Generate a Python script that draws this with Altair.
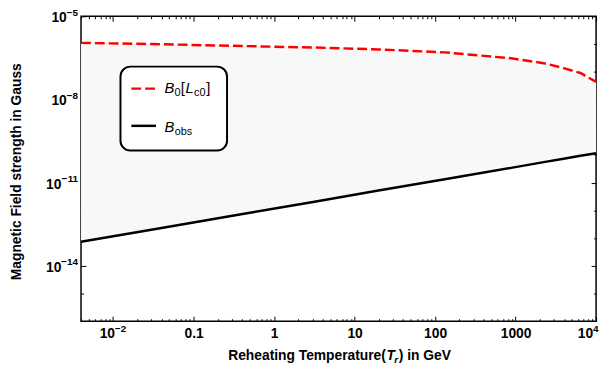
import altair as alt
import pandas as pd

# ---- data ----
T = [0.004, 0.04, 0.46, 3.05, 19.8, 132, 880, 2240, 3950, 6400, 10000]
B0_Lc0 = [1.10e-6, 9.8e-7, 8.4e-7, 7.5e-7, 6.4e-7, 5.0e-7, 3.06e-7, 2.04e-7, 1.35e-7, 9.0e-8, 4.3e-8]
B_obs = [7.4e-14, 2.3e-13, 7.9e-13, 2.0e-12, 5.2e-12, 1.33e-11, 3.4e-11, 5.5e-11, 7.3e-11, 9.3e-11, 1.15e-10]

x_major = [0.01, 0.1, 1, 10, 100, 1000, 10000]
x_plain = [0.1, 1, 10, 100, 1000]
x_plain_labels = ["0.1", "1", "10", "100", "1000"]
x_pow = [0.01, 10000]
x_pow_exp = ["−2", "4"]
x_minor = [0.004, 0.005, 0.006, 0.007, 0.008, 0.009,
           0.02, 0.03, 0.04, 0.05, 0.06, 0.07, 0.08, 0.09,
           0.2, 0.3, 0.4, 0.5, 0.6, 0.7, 0.8, 0.9,
           2, 3, 4, 5, 6, 7, 8, 9,
           20, 30, 40, 50, 60, 70, 80, 90,
           200, 300, 400, 500, 600, 700, 800, 900,
           2000, 3000, 4000, 5000, 6000, 7000, 8000, 9000]
y_major = [1e-5, 1e-8, 1e-11, 1e-14]
y_major_exp = ["−5", "−8", "−11", "−14"]
y_minor = [1e-6, 1e-7, 1e-9, 1e-10, 1e-12, 1e-13, 1e-15]

x_domain = [0.004, 10000]
y_domain = [1e-16, 1e-5]

df = pd.DataFrame({"T": T, "B0": B0_Lc0, "Bobs": B_obs})

W, H = 522, 309
FONT = "Liberation Sans"
LBL = 14      # tick label size
EXP = 10      # exponent size
TTL = 14      # axis title size


def label_expr(values, labels):
    import math
    expr = "''"
    for v, l in reversed(list(zip(values, labels))):
        expr = f"abs(log(datum.value)/LN10 - ({math.log10(v):.4f})) < 0.01 ? '{l}' : {expr}"
    return expr


def xaxis(orient, values, size, labelvals=None, labels=None):
    kw = dict(orient=orient, values=values, tickSize=size, offset=-size, domain=False,
              grid=False, title=None, tickColor="black", tickWidth=1)
    if labels:
        kw.update(labelExpr=label_expr(labelvals, labels), labelFont=FONT, labelFontWeight="bold",
                  labelFontSize=LBL, labelColor="black", labelPadding=6, labelFlush=False,
                  labelOverlap=False)
    else:
        kw.update(labels=False)
    return alt.Axis(**kw)


def yaxis(orient, values, size):
    return alt.Axis(orient=orient, values=values, tickSize=size, offset=-size, domain=False,
                    grid=False, tickColor="black", tickWidth=1, labels=False, title=None)


xs = alt.Scale(type="log", domain=x_domain, nice=False)
ys = alt.Scale(type="log", domain=y_domain, nice=False)

base = alt.Chart(df)

area = base.mark_area(color="#f7f9f9", opacity=1).encode(
    x=alt.X("T:Q", scale=xs, axis=xaxis("bottom", x_major, 5, x_plain, x_plain_labels)),
    y=alt.Y("Bobs:Q", scale=ys, axis=yaxis("left", y_major, 5)),
    y2="B0:Q",
)

red = base.mark_line(color="#ff0000", strokeWidth=2.5, strokeDash=[10, 4]).encode(
    x=alt.X("T:Q", scale=xs, axis=xaxis("bottom", x_minor, 2.5)),
    y=alt.Y("B0:Q", scale=ys, axis=yaxis("left", y_minor, 2.5)),
)

black = base.mark_line(color="black", strokeWidth=2.5).encode(
    x=alt.X("T:Q", scale=xs, axis=xaxis("top", x_major, 5)),
    y=alt.Y("Bobs:Q", scale=ys, axis=yaxis("right", y_major, 5)),
)

ghost = base.mark_line(opacity=0).encode(
    x=alt.X("T:Q", scale=xs, axis=xaxis("top", x_minor, 2.5)),
    y=alt.Y("Bobs:Q", scale=ys, axis=yaxis("right", y_minor, 2.5)),
)


def txt(s, x, y, size=13, weight="bold", style="normal", align="left", baseline="alphabetic",
        angle=0):
    kw = dict(font=FONT, fontSize=size, fontWeight=weight, fontStyle=style, align=align,
              baseline=baseline, color="black")
    if angle:
        kw["angle"] = angle
    return alt.Chart(pd.DataFrame({"s": [s]})).mark_text(**kw).encode(
        text="s:N", x=alt.value(x), y=alt.value(y))


# ---- y tick labels 10^e (text placed through the y scale) ----
ylabel_layers = []
for n in sorted(set(len(e) for e in y_major_exp)):
    sub = pd.DataFrame({"v": [v for v, e in zip(y_major, y_major_exp) if len(e) == n],
                        "e": [e for e in y_major_exp if len(e) == n]})
    wexp = 5.84 + 5.56 * (n - 1)
    ylabel_layers.append(alt.Chart(sub).mark_text(
        font=FONT, fontSize=EXP, fontWeight="bold", align="right", baseline="middle", dy=-3.5,
        color="black").encode(text="e:N", x=alt.value(-3), y=alt.Y("v:Q", scale=ys, axis=None)))
    ylabel_layers.append(alt.Chart(sub).mark_text(
        font=FONT, fontSize=LBL, fontWeight="bold", align="right", baseline="middle", dy=2,
        color="black", text="10").encode(x=alt.value(-3 - wexp), y=alt.Y("v:Q", scale=ys, axis=None)))

# ---- x tick labels 10^-2 and 10^4 ----
XL = H + 13
XE = H + 8
xpow_df = pd.DataFrame({"v": x_pow, "e": x_pow_exp})
xpow_layers = [
    alt.Chart(xpow_df.iloc[[0]]).mark_text(font=FONT, fontSize=LBL, fontWeight="bold", align="right",
                                           baseline="middle", dx=2, color="black", text="10").encode(
        x=alt.X("v:Q", scale=xs, axis=None), y=alt.value(XL)),
    alt.Chart(xpow_df.iloc[[0]]).mark_text(font=FONT, fontSize=EXP, fontWeight="bold", align="left",
                                           baseline="middle", dx=2, color="black").encode(
        text="e:N", x=alt.X("v:Q", scale=xs, axis=None), y=alt.value(XE)),
    alt.Chart(xpow_df.iloc[[1]]).mark_text(font=FONT, fontSize=LBL, fontWeight="bold", align="right",
                                           baseline="middle", dx=-3, color="black", text="10").encode(
        x=alt.X("v:Q", scale=xs, axis=None), y=alt.value(XL)),
    alt.Chart(xpow_df.iloc[[1]]).mark_text(font=FONT, fontSize=EXP, fontWeight="bold", align="left",
                                           baseline="middle", dx=-3, color="black").encode(
        text="e:N", x=alt.X("v:Q", scale=xs, axis=None), y=alt.value(XE)),
]

one = pd.DataFrame({"k": [0]})
legend_box = alt.Chart(one).mark_rect(
    fill="white", stroke="black", strokeWidth=2, cornerRadius=10
).encode(x=alt.value(40), x2=alt.value(148), y=alt.value(51), y2=alt.value(136))
legend_red = alt.Chart(one).mark_rule(color="#ff0000", strokeWidth=2.5, strokeDash=[10, 4]).encode(
    x=alt.value(51), x2=alt.value(75), y=alt.value(73.3))
legend_black = alt.Chart(one).mark_rule(color="black", strokeWidth=2.5).encode(
    x=alt.value(51), x2=alt.value(76), y=alt.value(111))

legend_texts = [
    txt("B", 84.7, 78, 15, "normal", "italic"),
    txt("0", 94.8, 81, 11, "normal"),
    txt("[", 101, 78, 15, "normal"),
    txt("L", 106, 78, 15, "normal", "italic"),
    txt("c0", 114.5, 81, 11, "normal"),
    txt("]", 127, 78, 15, "normal"),
    txt("B", 84.7, 117, 15, "normal", "italic"),
    txt("obs", 95, 120, 11, "normal"),
]

# ---- axis titles ----
TX = 261 - 113 + 161
TY = 348
xtitle = [
    txt("Reheating Temperature(", TX, TY, TTL, "bold", "normal", "right"),
    txt("T", TX + 0.5, TY, TTL, "bold", "italic"),
    txt("r", TX + 8.5, TY + 3, 10, "bold", "italic"),
    txt(") in GeV", TX + 13, TY, TTL, "bold", "normal"),
]
ytitle = txt("Magnetic Field strength in Gauss", -65, H / 2 + 3, TTL, "bold", "normal", "center",
             "middle", 270)

chart = alt.layer(
    area, red, black, ghost, legend_box, legend_red, legend_black, *legend_texts, *xtitle, ytitle,
    *ylabel_layers, *xpow_layers
).resolve_axis(x="independent", y="independent").properties(
    width=W, height=H,
    autosize=alt.AutoSizeParams(type="none"),
    padding={"left": 74, "top": 6, "right": 5, "bottom": 45},
).configure_view(stroke="black", strokeWidth=1.5)

chart.save("out.html", embed_options={"renderer": "svg", "actions": False})
